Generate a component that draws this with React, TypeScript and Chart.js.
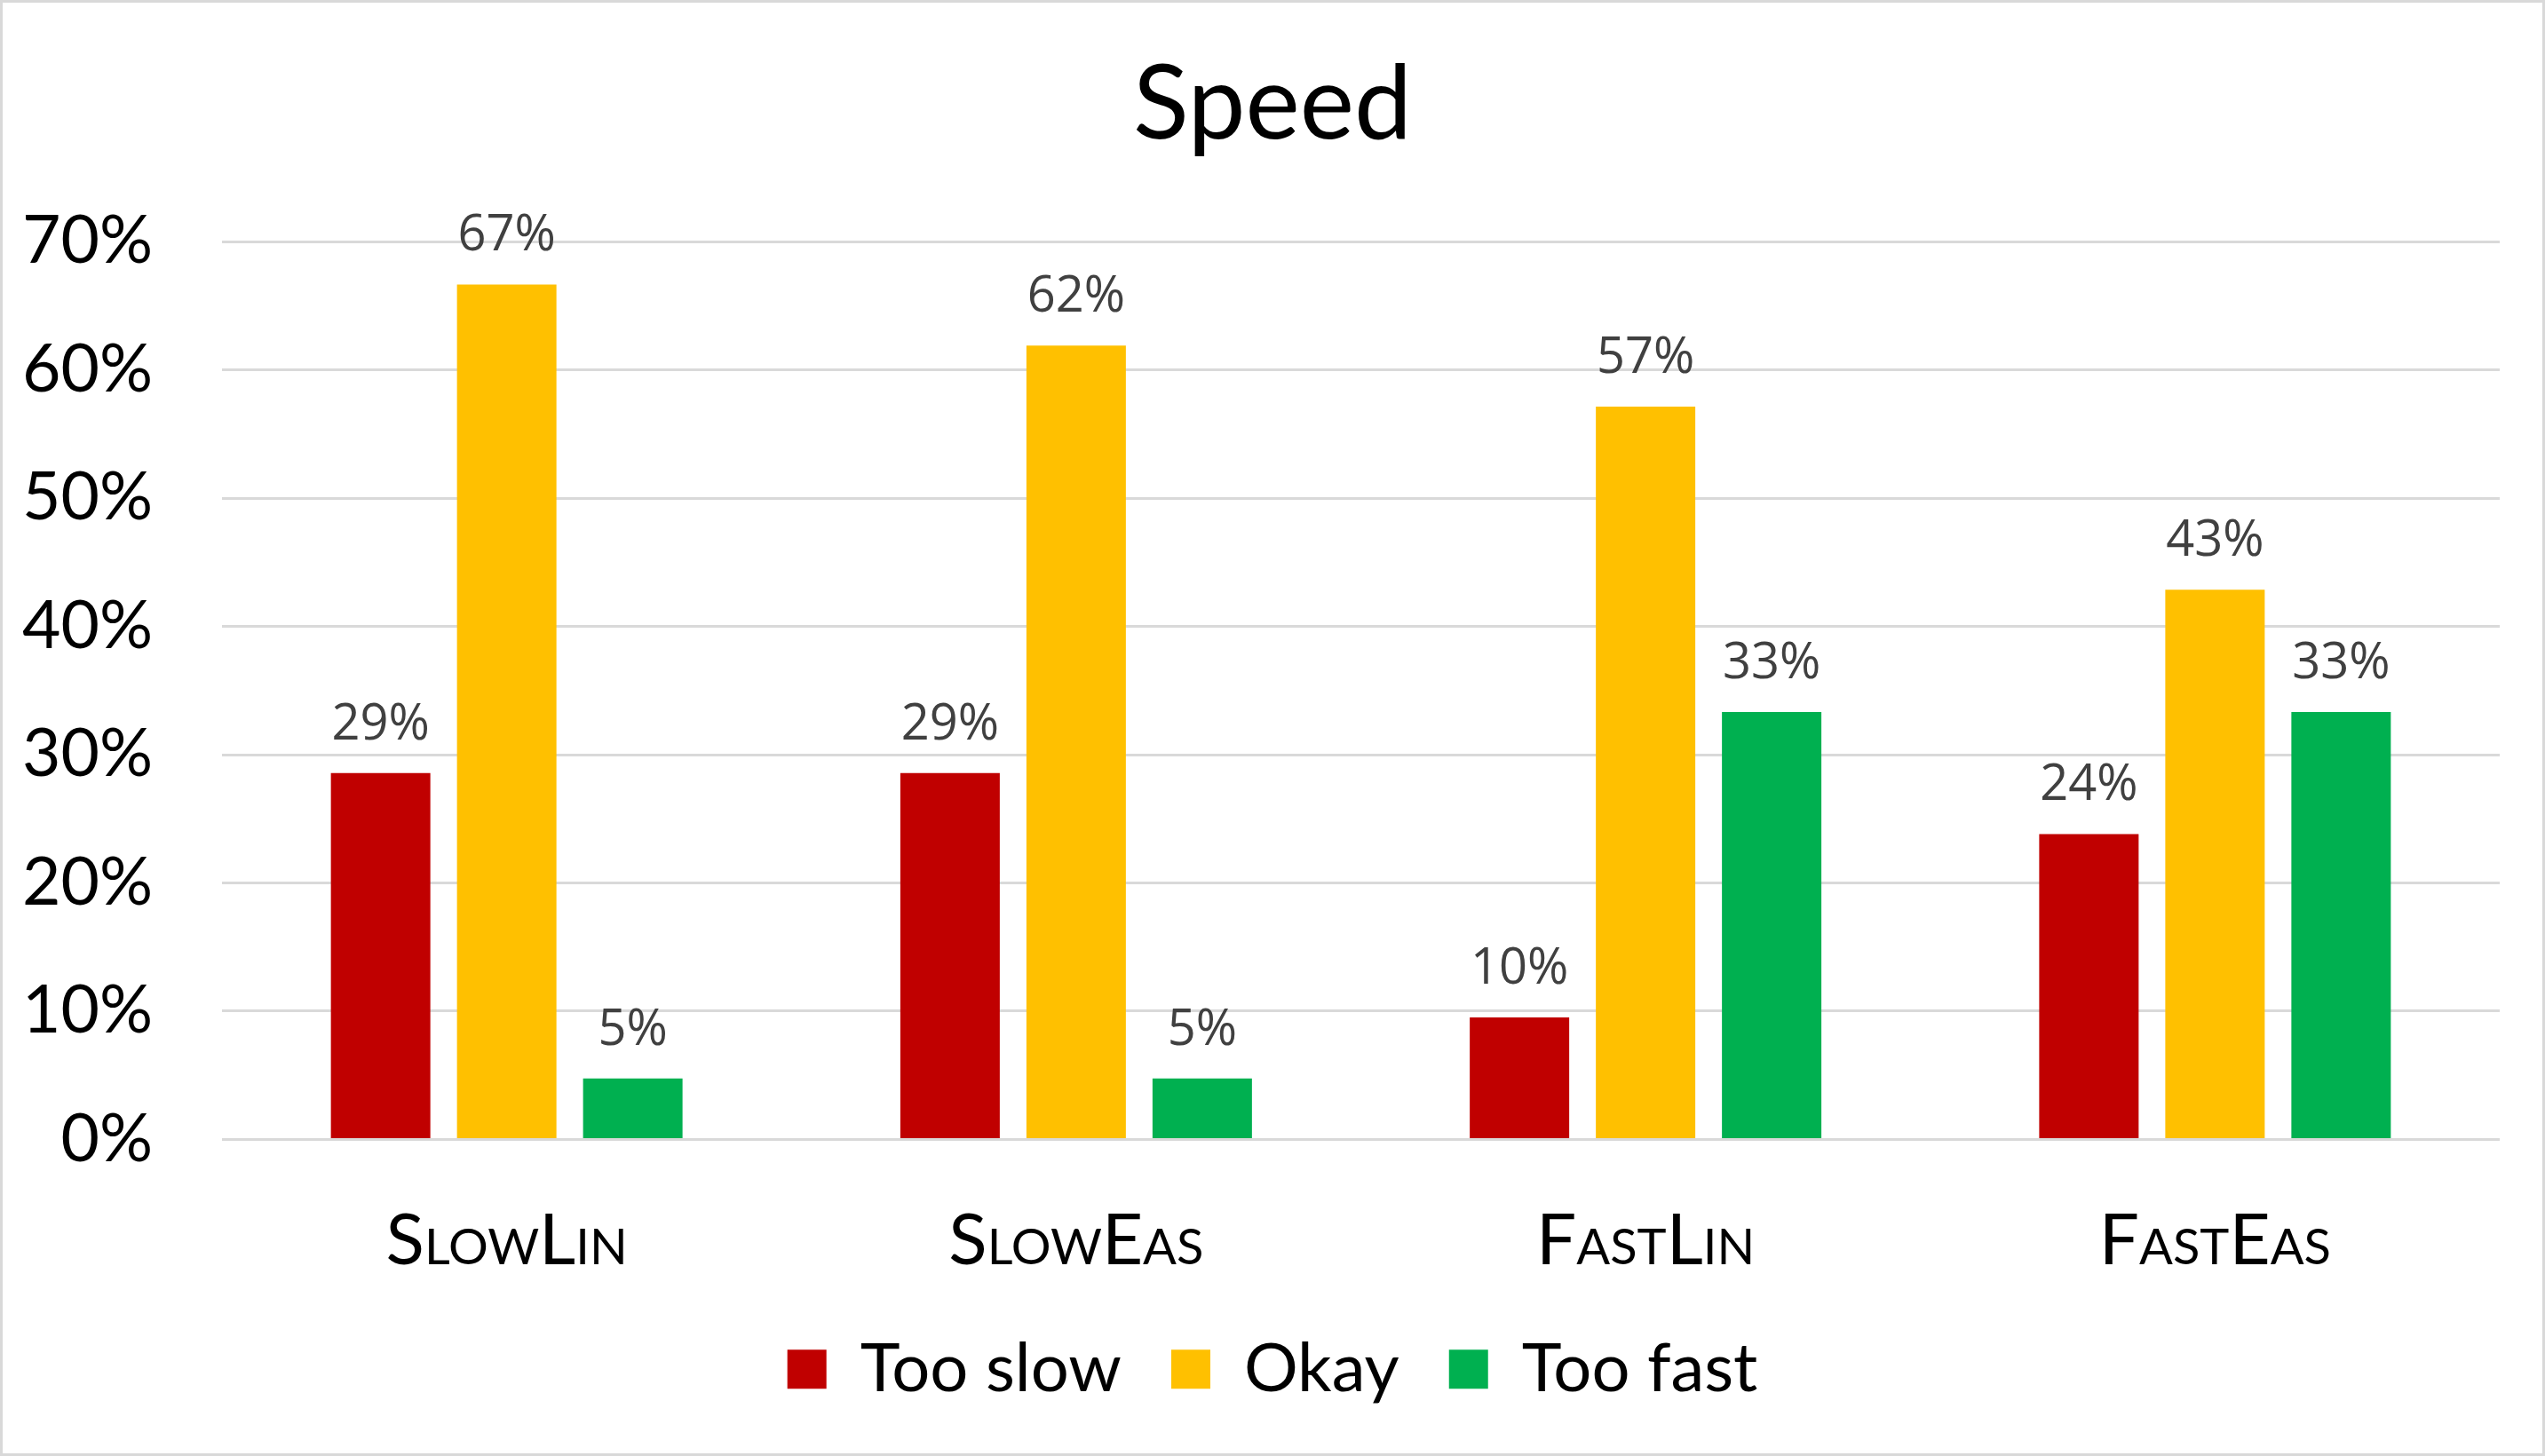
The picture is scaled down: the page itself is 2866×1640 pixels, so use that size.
import React, { useEffect, useRef } from "react";
import { Chart, registerables } from "chart.js";

Chart.register(...registerables);

const categories = ["SlowLin", "SlowEas", "FastLin", "FastEas"];
const seriesNames = ["Too slow", "Okay", "Too fast"];
const tooSlow = [0.2857, 0.2857, 0.0952, 0.2381];
const okay = [0.6667, 0.619, 0.5714, 0.4286];
const tooFast = [0.0476, 0.0476, 0.3333, 0.3333];
const seriesColors = ["#C00000", "#FFC000", "#00B050"];
const yTicks = [0, 0.1, 0.2, 0.3, 0.4, 0.5, 0.6, 0.7];

const dataLabelPlugin = {
  id: "dataLabels",
  afterDatasetsDraw(chart: any) {
    const ctx = chart.ctx;
    ctx.save();
    ctx.font = "56px 'Open Sans'";
    ctx.fillStyle = "#404040";
    ctx.textAlign = "center";
    ctx.textBaseline = "alphabetic";
    chart.data.datasets.forEach((ds: any, di: number) => {
      const meta = chart.getDatasetMeta(di);
      meta.data.forEach((bar: any, i: number) => {
        const v = ds.data[i];
        ctx.fillText(Math.round(v * 100) + "%", bar.x, bar.y - 38);
      });
    });
    ctx.restore();
  },
};

export default function App() {
  const ref = useRef<HTMLCanvasElement | null>(null);
  useEffect(() => {
    if (!ref.current) return;
    const chart = new Chart(ref.current, {
      type: "bar",
      data: {
        labels: categories,
        datasets: [tooSlow, okay, tooFast].map((d, i) => ({
          label: seriesNames[i],
          data: d,
          backgroundColor: seriesColors[i],
          borderWidth: 0,
          categoryPercentage: 0.6643,
          barPercentage: 0.7887,
          yAxisID: "y",
        })),
      },
      options: {
        animation: false,
        responsive: false,
        devicePixelRatio: 1,
        layout: { padding: { top: 0, left: 0, right: 0, bottom: 46.7 } },
        plugins: {
          title: {
            display: true,
            text: "Speed",
            color: "#000",
            font: { family: "Lato", size: 116, weight: "normal", lineHeight: 1.2 },
            padding: { top: 46.4, bottom: 83.7 },
          },
          legend: {
            display: true,
            position: "bottom",
            labels: {
              color: "#000",
              font: { family: "Lato", size: 76, lineHeight: 1.2 },
              boxWidth: 44,
              boxHeight: 44,
              padding: 56,
            },
          },
          tooltip: { enabled: false },
        },
        scales: {
          x: {
            grid: { display: false, drawTicks: false },
            border: { display: false },
            ticks: {
              color: "#000",
              font: { family: "Lato", size: 80, weight: "small-caps", lineHeight: 1.2 },
              padding: 67.2,
              maxRotation: 0,
            },
            afterFit(scale: any) {
              scale.height = 164.9;
            },
          },
          y: {
            position: "left",
            min: 0,
            max: 0.7,
            afterBuildTicks(scale: any) {
              scale.ticks = yTicks.map((v) => ({ value: v }));
            },
            grid: { color: "#D9D9D9", lineWidth: 3, drawTicks: false },
            border: { display: false },
            ticks: {
              color: "#000",
              font: { family: "Lato", size: 75 },
              padding: 78,
              callback: (v: any) => Math.round(Number(v) * 100) + "%",
            },
            afterFit(scale: any) {
              scale.width = 247;
            },
          },
          yRight: {
            position: "right",
            display: true,
            grid: { display: false, drawTicks: false },
            border: { display: false },
            ticks: { display: false },
            afterFit(scale: any) {
              scale.width = 48;
            },
          },
        },
      },
      plugins: [dataLabelPlugin],
    });
    return () => chart.destroy();
  }, []);
  return (
    <div
      style={{
        position: "fixed",
        left: 0,
        top: 0,
        width: 2866,
        height: 1640,
        boxSizing: "border-box",
        border: "3px solid #D9D9D9",
        background: "#fff",
      }}
    >
      <canvas ref={ref} width={2860} height={1634} style={{ display: "block", width: 2860, height: 1634 }} />
    </div>
  );
}
